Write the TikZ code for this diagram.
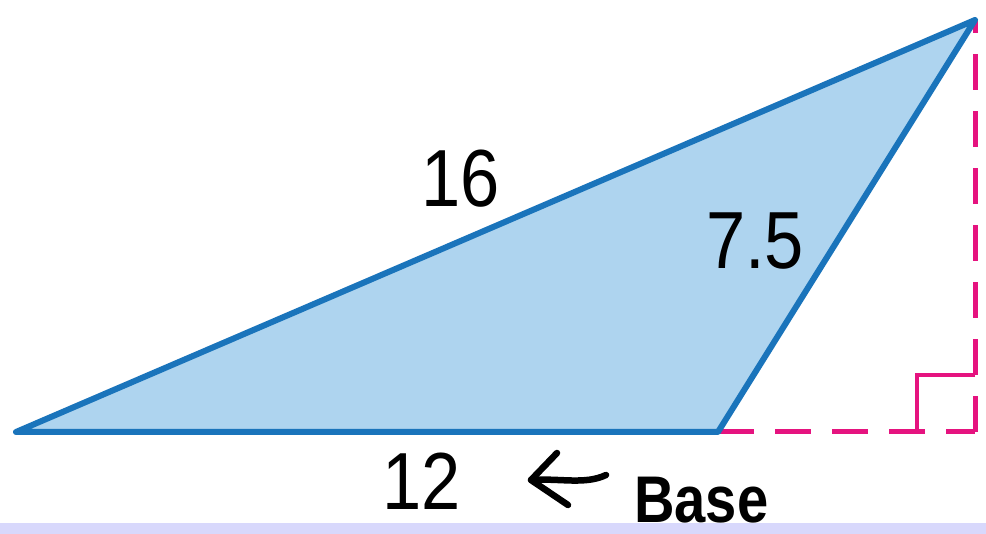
\documentclass[tikz,border=0pt]{standalone}
\usepackage{fontspec}
\setmainfont{Liberation Sans}
\usetikzlibrary{arrows.meta}
\definecolor{triFill}{HTML}{AED4EF}
\definecolor{triLine}{HTML}{1A74BB}
\definecolor{pinkLine}{HTML}{E5137F}
\definecolor{band}{HTML}{D8D8FC}
\tikzset{
  side/.style={draw=triLine, line width=6pt, fill=triFill, line join=round},
  altline/.style={draw=pinkLine, line width=5pt, dash pattern=on 36pt off 21pt},
  rightmark/.style={draw=pinkLine, line width=4pt},
  measure/.style={inner sep=0pt, font=\fontsize{81}{81}\selectfont},
  hand/.style={draw=black, line width=6.5pt, line cap=round, line join=round},
}
\begin{document}
\begin{tikzpicture}[x=1pt,y=-1pt]
\useasboundingbox (0,0) rectangle (986,534);
\fill[white] (0,0) rectangle (986,534);
\fill[band] (0,523) rectangle (986,534);
% vertices
\coordinate (A) at (16,432);
\coordinate (B) at (718,432);
\coordinate (C) at (975,20);
\coordinate (F) at (975,432);
% altitude and extension
\draw[altline] (B) -- (F);
\draw[altline] (F) -- (C);
\draw[rightmark] (975,375) -- (917,375) -- (917,432);
% triangle
\path[side] (A) -- (B) -- (C) -- cycle;
% labels
\node[measure] (l16) at (461,179) {\scalebox{0.87}[1]{16}};
\node[measure] (l75) at (755,241) {\scalebox{0.87}[1]{7.5}};
\node[measure] (l12) at (422,481) {\scalebox{0.87}[1]{12}};
% handwritten arrow and note
\coordinate (ahead) at (531,480);
\draw[hand] (606,475) .. controls (585,485) and (560,478) .. (ahead);
\draw[hand] (557,453) -- (ahead) -- (568,505);
\node[inner sep=0pt, anchor=base west, font=\fontsize{66}{66}\selectfont\bfseries] (base) at (634,522) {\scalebox{0.85}[1]{Base}};
\end{tikzpicture}
\end{document}
